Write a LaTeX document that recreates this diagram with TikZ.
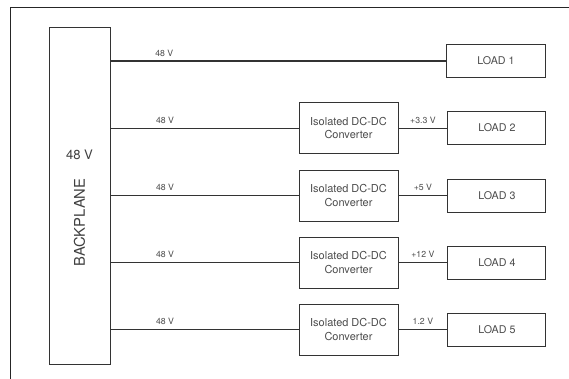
\documentclass[tikz,border=0pt]{standalone}
\usepackage{fontspec}
\setmainfont{TeX Gyre Heros}
\usetikzlibrary{positioning}
\tikzset{
  frame/.style={draw=black!85, line width=0.7pt},
  bpbox/.style={draw=black!80, line width=0.7pt, minimum width=1.525cm, minimum height=8.4cm},
  conv/.style={draw=black!80, line width=0.7pt, minimum width=2.475cm, minimum height=1.275cm,
    align=center, text=black!70, font=\fontsize{7.8}{9.4}\selectfont},
  load/.style={draw=black!80, line width=0.7pt, minimum width=2.455cm, minimum height=0.825cm,
    text=black!70, font=\fontsize{7.6}{9}\selectfont},
  wire/.style={draw=black!80, line width=0.7pt},
  volt/.style={above, inner sep=3pt, text=black!70, font=\fontsize{6.2}{7}\selectfont},
}
\begin{document}
\begin{tikzpicture}
\useasboundingbox (0,0) rectangle (14.225,9.475);
% frame
\draw[frame] (0.25,0) -- (0.25,9.275) -- (14.225,9.275);
% backplane
\node[bpbox] (bp) at (1.9875,4.575) {};
\node[text=black!75, font=\fontsize{9.3}{11}\selectfont] (bpvolt) at (1.9875,5.6) {48 V};
\node[rotate=90, text=black!75, font=\fontsize{10.5}{12}\selectfont] (bpname) at (1.9875,3.9125) {BACKPLANE};
% load 1 straight from the backplane
\node[load] (load1) at (12.4,7.95) {LOAD 1};
\draw[wire, line width=0.9pt] (bp.east |- load1) -- node[volt, pos=0.16] {48 V} (load1);
% converter branches
\foreach \i/\y/\v in {2/6.275/+3.3 V, 3/4.5875/+5 V, 4/2.9125/+12 V, 5/1.2375/1.2 V}{
  \node[conv] (conv\i) at (8.7125,\y) {Isolated DC-DC\\Converter};
  \node[load, right=1.22cm of conv\i] (load\i) {LOAD \i};
  \draw[wire] (bp.east |- conv\i) -- node[volt, pos=0.29] {48 V} (conv\i);
  \draw[wire] (conv\i) -- node[volt] {\v} (load\i);
}
\end{tikzpicture}
\end{document}
